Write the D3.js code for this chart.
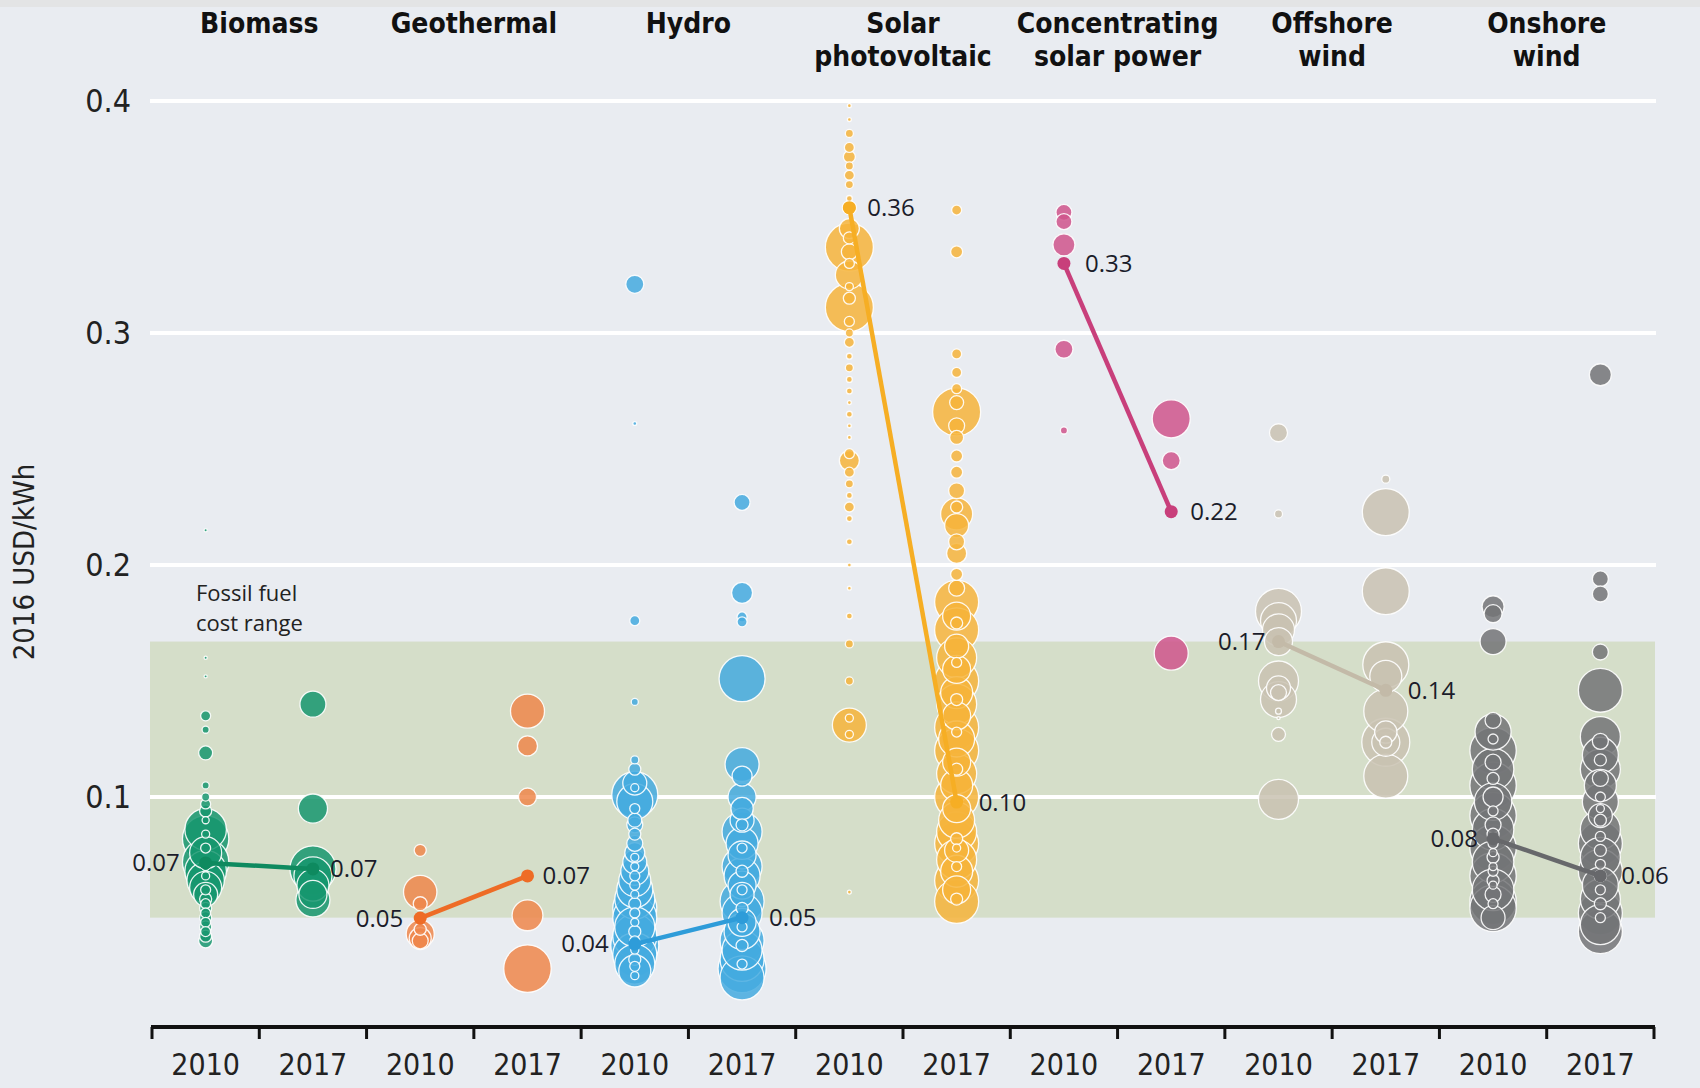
<!DOCTYPE html>
<html>
<head>
<meta charset="utf-8">
<script src="https://cdn.jsdelivr.net/npm/d3@7"></script>
<style>
  body { margin: 0; background: #e9ecf1; }
  svg { display: block; }
</style>
</head>
<body>
<div id="chart-area"></div>
<script>
/*
*    LCOE by technology, 2010 vs 2017
*/

// Data
var categories = ["Biomass", "Geothermal", "Hydro", "Solar photovoltaic", "Concentrating solar power", "Offshore wind", "Onshore wind"];
var headerLines = [["Biomass"], ["Geothermal"], ["Hydro"], ["Solar", "photovoltaic"], ["Concentrating", "solar power"], ["Offshore", "wind"], ["Onshore", "wind"]];
var years = ["2010", "2017"];
var yTicks = [0.1, 0.2, 0.3, 0.4];
var fossilRange = [0.048, 0.167];

var avg2010 = [0.0716, 0.0478, 0.0366, 0.354, 0.330, 0.167, 0.082];
var avg2017 = [0.069, 0.066, 0.048, 0.0978, 0.223, 0.146, 0.066];
var avgLabels2010 = ["0.07", "0.05", "0.04", "0.36", "0.33", "0.17", "0.08"];
var avgLabels2017 = ["0.07", "0.07", "0.05", "0.10", "0.22", "0.14", "0.06"];

// projects: [USD/kWh, capacity MW]
var biomass2010 = [[0.215,4],[0.160,4],[0.152,4],[0.135,40],[0.129,20],[0.119,78],[0.105,20],[0.100,26],[0.097,40],[0.094,58],
  [0.090,20],[0.086,690],[0.082,860],[0.078,40],[0.076,410],[0.072,860],[0.070,26],[0.068,690],[0.064,560],[0.061,410],[0.058,230],
  [0.056,58],[0.054,40],[0.052,58],[0.050,40],[0.048,58],[0.046,40],[0.044,58],[0.042,40],[0.040,58],[0.038,78],[0.060,40],[0.066,26],[0.084,26]];
var biomass2017 = [[0.140,270],[0.095,340],[0.069,846],[0.066,578],[0.062,410],[0.058,314],[0.0556,462]];
var geothermal2010 = [[0.077,58],[0.059,446],[0.054,78],[0.043,58],[0.041,314],[0.039,194],[0.038,102]];
var geothermal2017 = [[0.137,462],[0.122,160],[0.100,130],[0.049,380],[0.026,900]];
var hydro2010 = [[0.321,130],[0.261,6],[0.176,40],[0.141,20],[0.116,26],[0.112,58],[0.106,230],[0.101,846],[0.098,518],[0.104,26],
  [0.095,40],[0.090,78],[0.088,102],[0.084,58],[0.080,102],[0.076,160],[0.072,230],[0.068,314],[0.064,410],[0.060,518],[0.056,640],
  [0.052,774],[0.048,774],[0.044,640],[0.040,774],[0.036,922],[0.032,774],[0.028,640],[0.025,410],[0.070,26],[0.062,40],[0.058,26],
  [0.054,58],[0.050,40],[0.046,26],[0.042,58],[0.038,40],[0.034,26],[0.030,58],[0.027,40],[0.023,26],[0.066,40],[0.074,26]];
var hydro2017 = [[0.227,102],[0.188,176],[0.1776,40],[0.1755,40],[0.151,846],[0.114,462],[0.109,160],[0.100,314],[0.095,200],[0.090,230],
  [0.085,640],[0.080,410],[0.075,314],[0.070,640],[0.066,518],[0.062,314],[0.058,230],[0.055,774],[0.050,640],[0.046,314],[0.042,518],
  [0.038,774],[0.034,640],[0.030,774],[0.026,922],[0.022,774],[0.088,58],[0.078,40],[0.068,58],[0.060,40],[0.052,58],[0.044,40],[0.036,58],[0.028,40]];
var solar2010 = [[0.398,6],[0.392,6],[0.386,26],[0.380,40],[0.376,58],[0.372,26],[0.368,40],[0.364,26],[0.358,14],[0.354,78],[0.345,160],
  [0.341,58],[0.337,922],[0.335,102],[0.330,40],[0.325,314],[0.320,26],[0.315,58],[0.311,922],[0.305,40],[0.300,26],[0.296,40],[0.290,14],
  [0.285,26],[0.280,14],[0.275,14],[0.270,6],[0.265,14],[0.260,6],[0.255,6],[0.248,40],[0.245,160],[0.240,40],[0.235,26],[0.230,14],
  [0.225,40],[0.220,14],[0.210,14],[0.200,6],[0.190,6],[0.178,14],[0.166,26],[0.150,26],[0.134,26],[0.131,462],[0.127,26],[0.059,6]];
var solar2017 = [[0.353,40],[0.335,58],[0.291,40],[0.283,40],[0.276,40],[0.270,78],[0.266,922],[0.260,102],[0.255,78],[0.247,58],[0.240,58],
  [0.232,102],[0.225,58],[0.222,410],[0.217,230],[0.210,102],[0.205,160],[0.196,58],[0.190,102],[0.184,774],[0.178,314],[0.172,774],
  [0.165,230],[0.160,640],[0.155,314],[0.150,774],[0.145,410],[0.140,640],[0.135,314],[0.130,774],[0.125,518],[0.120,774],[0.115,314],
  [0.110,640],[0.105,410],[0.100,774],[0.095,314],[0.090,518],[0.085,640],[0.080,774],[0.077,230],[0.073,640],[0.068,410],[0.064,774],
  [0.060,314],[0.055,774],[0.175,58],[0.158,40],[0.142,58],[0.128,40],[0.112,58],[0.098,40],[0.082,58],[0.078,26],[0.070,40],[0.056,58]];
var csp2010 = [[0.352,102],[0.348,102],[0.338,194],[0.293,130],[0.258,20]];
var csp2017 = [[0.263,578],[0.245,130],[0.162,462]];
var offshore2010 = [[0.257,130],[0.222,26],[0.180,846],[0.176,518],[0.172,410],[0.167,314],[0.150,640],[0.147,230],[0.145,102],
  [0.142,518],[0.137,14],[0.134,4],[0.127,78],[0.099,640]];
var offshore2017 = [[0.237,26],[0.2228,880],[0.1887,880],[0.157,846],[0.152,410],[0.137,774],[0.1236,922],[0.1236,314],[0.1236,58],
  [0.128,200],[0.109,774]];
var onshore2010 = [[0.182,194],[0.179,130],[0.167,270],[0.133,102],[0.128,518],[0.120,860],[0.112,690],[0.105,860],[0.098,560],
  [0.092,860],[0.086,690],[0.078,860],[0.072,690],[0.066,860],[0.060,690],[0.055,860],[0.052,860],[0.125,40],[0.115,102],[0.108,58],
  [0.100,160],[0.094,40],[0.088,102],[0.084,58],[0.080,40],[0.076,26],[0.074,58],[0.070,26],[0.068,40],[0.064,58],[0.062,26],
  [0.058,102],[0.054,40],[0.048,230]];
var onshore2017 = [[0.282,194],[0.194,102],[0.1875,102],[0.1625,102],[0.146,774],[0.126,640],[0.118,518],[0.112,640],[0.105,410],
  [0.098,518],[0.092,230],[0.086,640],[0.080,774],[0.074,640],[0.068,774],[0.062,518],[0.056,640],[0.050,774],[0.045,640],[0.042,774],
  [0.124,102],[0.116,58],[0.108,102],[0.100,40],[0.095,26],[0.090,58],[0.083,40],[0.077,58],[0.071,40],[0.066,58],[0.060,40],
  [0.054,58],[0.048,40]];

var projects = [
  [biomass2010, biomass2017], [geothermal2010, geothermal2017], [hydro2010, hydro2017],
  [solar2010, solar2017], [csp2010, csp2017], [offshore2010, offshore2017], [onshore2010, onshore2017]
];

// Styles
var fills = ["#16976f", "#ef874b", "#44aadf", "#f6b43b", "#cf558c", "#c9c2b2", "#737477"];
var lineColors = ["#0e8a5f", "#ee6c26", "#2e9cd9", "#f6ae24", "#c83f7b", "#c3baa8", "#67686b"];
var labelSide2010 = [-1, -1, -1, 1, 1, -1, -1];
var labelGap2010 = [26, 17, 26, 18, 21, 13, 15];
var labelGap2017 = [17, 15, 27, 22, 19, 22, 21];

var width = 1700;
var height = 1088;
var condensed = "'DejaVu Sans Condensed', 'Liberation Sans Narrow', sans-serif";
var rounded = "'Open Sans', 'DejaVu Sans', sans-serif";

var svg = d3.select("#chart-area").append("svg")
	.attr("width", width)
	.attr("height", height);

svg.append("rect")
	.attr("width", width)
	.attr("height", height)
	.attr("fill", "#e9ecf1");

svg.append("rect")
	.attr("width", width)
	.attr("height", 7)
	.attr("fill", "#e3e4e5");

// Scales
var keys = [];
categories.forEach((c) => years.forEach((yr) => keys.push(c + "|" + yr)));

var x = d3.scaleBand()
	.domain(keys)
	.range([152, 1654])
	.padding(0);

var y = d3.scaleLinear()
	.domain([0, 0.4])
	.range([1029, 101]);

var r = d3.scaleSqrt()
	.domain([0, 1000])
	.range([0, 25]);

var cx = (c, yr) => x(c + "|" + yr) + x.bandwidth() / 2;

// Fossil fuel band
svg.append("rect")
	.attr("x", 150)
	.attr("y", y(fossilRange[1]))
	.attr("width", 1655 - 150)
	.attr("height", y(fossilRange[0]) - y(fossilRange[1]))
	.attr("fill", "#d5dec9");

// Gridlines
svg.append("g").selectAll("line")
	.data(yTicks)
	.enter().append("line")
	.attr("x1", 150)
	.attr("x2", 1656)
	.attr("y1", (d) => y(d))
	.attr("y2", (d) => y(d))
	.attr("stroke", "#ffffff")
	.attr("stroke-width", 4);

// y tick labels
var yAxisCall = d3.axisLeft(y)
	.tickValues(yTicks)
	.tickSize(0)
	.tickPadding(0)
	.tickFormat(d3.format(".1f"));

var yAxisGroup = svg.append("g")
	.attr("transform", "translate(131, 0)")
	.call(yAxisCall);
yAxisGroup.select(".domain").remove();
yAxisGroup.selectAll("text")
	.style("font-family", condensed)
	.style("font-size", "32px")
	.attr("fill", "#222");

// y label
svg.append("text")
	.attr("transform", "rotate(-90)")
	.attr("x", -562)
	.attr("y", 34)
	.attr("text-anchor", "middle")
	.style("font-family", condensed)
	.style("font-size", "29px")
	.attr("fill", "#222")
	.text("2016 USD/kWh");

// Fossil label
svg.append("text")
	.attr("x", 196)
	.attr("y", 601)
	.style("font-family", rounded)
	.style("font-size", "22px")
	.attr("fill", "#222")
	.selectAll("tspan")
	.data(["Fossil fuel", "cost range"])
	.enter().append("tspan")
	.attr("x", 196)
	.attr("dy", (d, i) => i === 0 ? 0 : 30)
	.text((d) => d);

// Bubbles
projects.forEach((pair, ci) => {
	pair.forEach((list, yi) => {
		var sorted = list.slice().sort((a, b) => b[1] - a[1]);
		svg.append("g").selectAll("circle")
			.data(sorted)
			.enter().append("circle")
			.attr("cx", cx(categories[ci], years[yi]))
			.attr("cy", (d) => y(d[0]))
			.attr("r", (d) => r(d[1]))
			.attr("fill", fills[ci])
			.attr("fill-opacity", 0.85)
			.attr("stroke", "#ffffff")
			.attr("stroke-opacity", 0.9)
			.attr("stroke-width", 1.3);
	});
});

// Average lines
var avgGroup = svg.append("g");
categories.forEach((c, i) => {
	var x1 = cx(c, "2010"), x2 = cx(c, "2017");
	avgGroup.append("line")
		.attr("x1", x1).attr("y1", y(avg2010[i]))
		.attr("x2", x2).attr("y2", y(avg2017[i]))
		.attr("stroke", lineColors[i])
		.attr("stroke-width", 4.5);
	[[x1, avg2010[i]], [x2, avg2017[i]]].forEach((p) => {
		avgGroup.append("circle")
			.attr("cx", p[0]).attr("cy", y(p[1]))
			.attr("r", 6.5)
			.attr("fill", lineColors[i]);
	});
	avgGroup.append("text")
		.attr("x", x1 + labelSide2010[i] * labelGap2010[i])
		.attr("y", y(avg2010[i]))
		.attr("dy", "0.35em")
		.attr("text-anchor", labelSide2010[i] < 0 ? "end" : "start")
		.style("font-family", rounded)
		.style("font-size", "24px")
		.attr("fill", "#1b1c2a")
		.text(avgLabels2010[i]);
	avgGroup.append("text")
		.attr("x", x2 + labelGap2017[i])
		.attr("y", y(avg2017[i]))
		.attr("dy", "0.35em")
		.attr("text-anchor", "start")
		.style("font-family", rounded)
		.style("font-size", "24px")
		.attr("fill", "#1b1c2a")
		.text(avgLabels2017[i]);
});

// Headers
categories.forEach((c, i) => {
	var hx = x(c + "|2010") + x.bandwidth();
	svg.append("text")
		.attr("x", hx)
		.attr("y", 33)
		.attr("text-anchor", "middle")
		.style("font-family", condensed)
		.style("font-size", "28px")
		.style("font-weight", "bold")
		.attr("fill", "#111")
		.selectAll("tspan")
		.data(headerLines[i])
		.enter().append("tspan")
		.attr("x", hx)
		.attr("dy", (d, j) => j === 0 ? 0 : 33)
		.text((d) => d);
});

// x axis
var xAxisCall = d3.axisBottom(x)
	.tickSize(0)
	.tickPadding(25)
	.tickFormat((d) => d.split("|")[1]);

var xAxisGroup = svg.append("g")
	.attr("transform", "translate(0, " + y(0) + ")")
	.call(xAxisCall);
xAxisGroup.select(".domain").remove();
xAxisGroup.selectAll("text")
	.style("font-family", condensed)
	.style("font-size", "30px")
	.attr("fill", "#222");

svg.append("line")
	.attr("x1", x.range()[0] - 1)
	.attr("x2", x.range()[1] + 1)
	.attr("y1", y(0) - 2)
	.attr("y2", y(0) - 2)
	.attr("stroke", "#111")
	.attr("stroke-width", 4);

var bounds = keys.map((k) => x(k)).concat([x.range()[1]]);
svg.append("g").selectAll("line")
	.data(bounds)
	.enter().append("line")
	.attr("x1", (d) => d)
	.attr("x2", (d) => d)
	.attr("y1", y(0) - 2)
	.attr("y2", y(0) + 10)
	.attr("stroke", "#111")
	.attr("stroke-width", 3);
</script>
</body>
</html>
